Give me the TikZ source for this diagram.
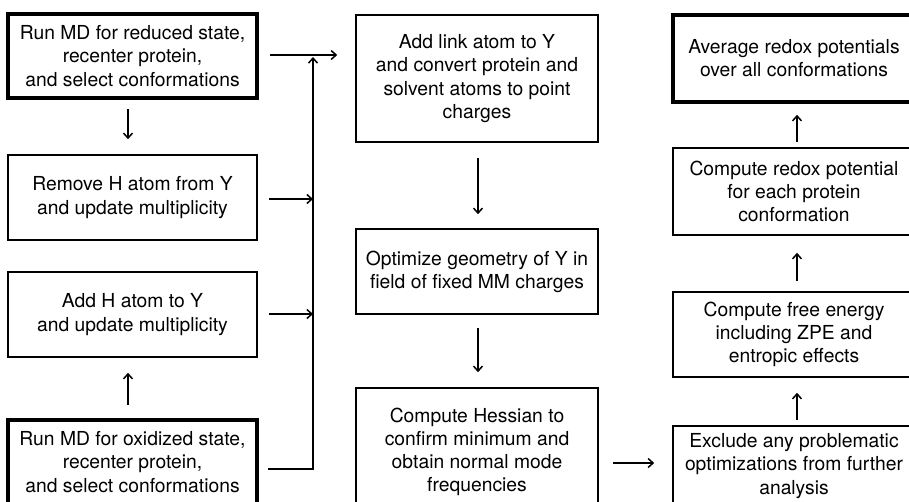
\documentclass[tikz,border=0pt]{standalone}
\usepackage{fontspec}
\setmainfont{TeX Gyre Heros}
\usetikzlibrary{arrows.meta,calc}
\begin{document}
\begin{tikzpicture}[x=1pt,y=-1pt,
  box/.style={draw, line width=1.6pt, rectangle, inner sep=0pt, align=center,
    font=\fontsize{19.3}{23.2}\selectfont},
  thickbox/.style={box, line width=3.6pt},
  arr/.style={line width=1.5pt, -{Straight Barb[length=5pt,width=9pt]}},
  ln/.style={line width=1.5pt}]
\path[use as bounding box] (0,0) rectangle (909,502);
% left column
\node[thickbox, minimum width=249pt, minimum height=84pt] (b1) at (132.5,56)
  {Run MD for reduced state,\\recenter protein,\\and select conformations};
\node[box, minimum width=249pt, minimum height=85pt] (b2) at (132.5,197.5)
  {Remove H atom from Y\\and update multiplicity};
\node[box, minimum width=249pt, minimum height=85pt] (b3) at (132.5,314.5)
  {Add H atom to Y\\and update multiplicity};
\node[thickbox, minimum width=249pt, minimum height=84pt] (b4) at (132.5,462)
  {Run MD for oxidized state,\\recenter protein,\\and select conformations};
% middle column
\node[box, minimum width=242pt, minimum height=127pt] (b5) at (477,78.5)
  {Add link atom to Y\\and convert protein and\\solvent atoms to point\\charges};
\node[box, minimum width=242pt, minimum height=85pt] (b6) at (477,271.5)
  {Optimize geometry of Y in\\field of fixed MM charges};
\node[box, minimum width=242pt, minimum height=128pt] (b7) at (477,452)
  {Compute Hessian to\\confirm minimum and\\obtain normal mode\\frequencies};
% right column
\node[thickbox, minimum width=242pt, minimum height=87pt] (b8) at (794,58.5)
  {Average redox potentials\\over all conformations};
\node[box, minimum width=242pt, minimum height=87pt] (b9) at (794,191.5)
  {Compute redox potential\\for each protein\\conformation};
\node[box, minimum width=242pt, minimum height=85pt] (b10) at (794,334.5)
  {Compute free energy\\including ZPE and\\entropic effects};
\node[box, minimum width=242pt, minimum height=80pt] (b11) at (794,466)
  {Exclude any problematic\\optimizations from further\\analysis};
% bus
\coordinate (bustop) at (313,57);
\coordinate (b4out) at (268,469);
\coordinate (busbot) at (313,469);
% left column arrows
\draw[arr] ([xshift=-4.5pt,yshift=-9pt]b1.south) -- ([xshift=-4.5pt,yshift=15pt]b2.north);
\draw[arr] ([xshift=-4.5pt,yshift=13pt]b4.north) -- ([xshift=-4.5pt,yshift=-15pt]b3.south);
\coordinate (b1out) at ([xshift=11pt,yshift=1pt]b1.east);
\draw[arr] (b1out) -- ([xshift=-18pt]b5.west |- b1out);
\coordinate (b2out) at ([xshift=11pt,yshift=-1.5pt]b2.east);
\draw[arr] (b2out) -- (bustop |- b2out);
\coordinate (b3out) at ([xshift=11pt,yshift=0.5pt]b3.east);
\draw[arr] (b3out) -- (bustop |- b3out);
\draw[ln] (b4out) -- (busbot);
\draw[arr] ([yshift=-0.75pt]busbot) -- (bustop);
% middle arrows
\draw[arr] ([xshift=1pt,yshift=-15pt]b5.south) -- ([xshift=1pt,yshift=14pt]b6.north);
\draw[arr] ([xshift=1pt,yshift=-13pt]b6.south) -- ([xshift=1pt,yshift=15pt]b7.north);
\coordinate (b7out) at ([xshift=14pt]b7.east |- 0,463);
\draw[arr] (b7out) -- ([xshift=-18pt]b11.west |- b7out);
% right arrows
\draw[arr] ([xshift=3pt,yshift=5pt]b11.north) -- ([xshift=3pt,yshift=-15pt]b10.south);
\draw[arr] ([xshift=3pt,yshift=10pt]b10.north) -- ([xshift=3pt,yshift=-17pt]b9.south);
\draw[arr] ([xshift=3pt,yshift=5pt]b9.north) -- ([xshift=3pt,yshift=-11pt]b8.south);
\end{tikzpicture}
\end{document}
